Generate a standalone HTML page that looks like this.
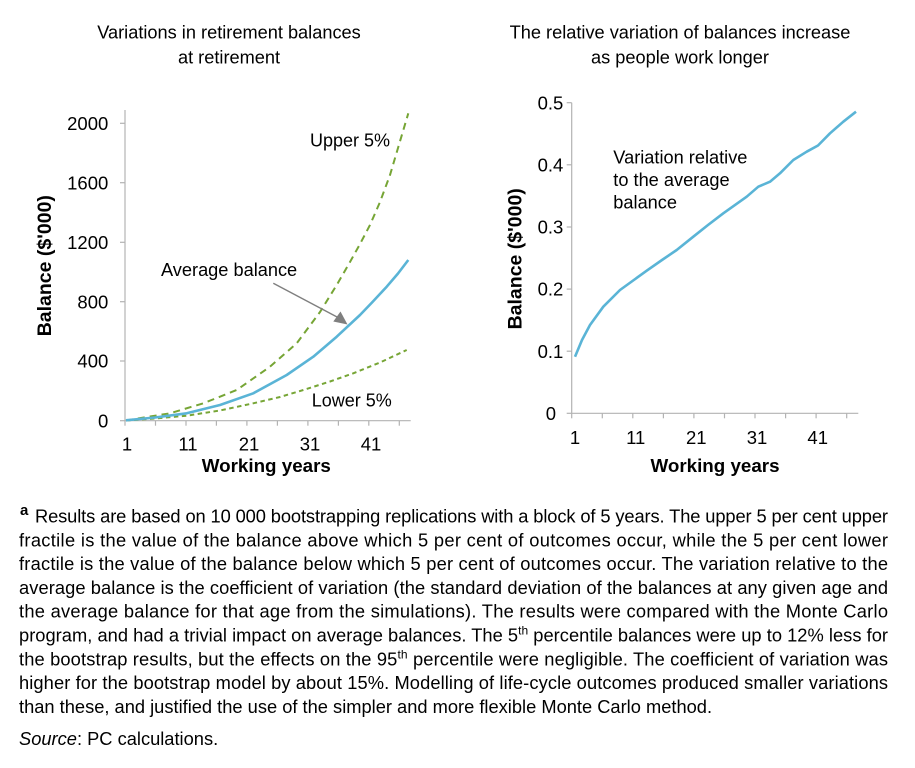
<!DOCTYPE html>
<html>
<head>
<meta charset="utf-8">
<style>
  html, body { margin:0; padding:0; background:#fff; }
  svg { display:block; }
  text { font-family: "Liberation Sans", Arial, sans-serif; fill:#000; }
</style>
</head>
<body>
<svg width="915" height="768" viewBox="0 0 915 768" xmlns="http://www.w3.org/2000/svg">
  <rect x="0" y="0" width="915" height="768" fill="#fff"/>

  <!-- ===== Left chart ===== -->
  <text x="229" y="38.3" font-size="18.2" text-anchor="middle">Variations in retirement balances</text>
  <text x="229" y="63.3" font-size="18.2" text-anchor="middle">at retirement</text>

  <g stroke="#b3b3b3" stroke-width="1.2" fill="none">
    <line x1="125" y1="110" x2="125" y2="421"/>
    <line x1="125" y1="420.7" x2="410.7" y2="420.7"/>
    <line x1="120" y1="123.3" x2="125" y2="123.3"/>
    <line x1="120" y1="182.7" x2="125" y2="182.7"/>
    <line x1="120" y1="242.3" x2="125" y2="242.3"/>
    <line x1="120" y1="301.7" x2="125" y2="301.7"/>
    <line x1="120" y1="361" x2="125" y2="361"/>
    <line x1="120" y1="420.7" x2="125" y2="420.7"/>
    <line x1="125" y1="420.7" x2="125" y2="425.7"/>
    <line x1="155.5" y1="420.7" x2="155.5" y2="425.7"/>
    <line x1="186" y1="420.7" x2="186" y2="425.7"/>
    <line x1="216.4" y1="420.7" x2="216.4" y2="425.7"/>
    <line x1="246.9" y1="420.7" x2="246.9" y2="425.7"/>
    <line x1="277.4" y1="420.7" x2="277.4" y2="425.7"/>
    <line x1="307.9" y1="420.7" x2="307.9" y2="425.7"/>
    <line x1="338.4" y1="420.7" x2="338.4" y2="425.7"/>
    <line x1="368.8" y1="420.7" x2="368.8" y2="425.7"/>
    <line x1="399.3" y1="420.7" x2="399.3" y2="425.7"/>
  </g>

  <g font-size="18.5" text-anchor="end">
    <text x="108.3" y="129.9">2000</text>
    <text x="108.3" y="189.3">1600</text>
    <text x="108.3" y="248.9">1200</text>
    <text x="108.3" y="308.3">800</text>
    <text x="108.3" y="367.6">400</text>
    <text x="108.3" y="427.3">0</text>
  </g>
  <g font-size="18.5" text-anchor="middle">
    <text x="127" y="450.7">1</text>
    <text x="188" y="450.7">11</text>
    <text x="249" y="450.7">21</text>
    <text x="310" y="450.7">31</text>
    <text x="371" y="450.7">41</text>
  </g>
  <text x="266.3" y="472" font-size="18.8" font-weight="bold" text-anchor="middle">Working years</text>
  <text transform="translate(51,265.7) rotate(-90)" font-size="19.5" font-weight="bold" text-anchor="middle">Balance ($'000)</text>

  <!-- series -->
  <polyline fill="none" stroke="#76a535" stroke-width="2" stroke-dasharray="4.5 3.5"
    points="126,420.5 155,418.5 186.7,415.7 220,410.5 253.3,403.3 280,397 303.3,390 330,381.5 353.3,373.3 380,362.5 406.7,350"/>
  <polyline fill="none" stroke="#76a535" stroke-width="2" stroke-dasharray="7 5"
    points="126,420.5 150,416.5 170,413.3 203.3,403.3 236.7,390 270,366.7 296.7,343.3 320,312 336.7,285 350,262 360,244 370,225 380,202 390,175 398.3,147 408.3,113.3"/>
  <polyline fill="none" stroke="#5ab4d6" stroke-width="2.6" stroke-linejoin="round"
    points="126,420.3 155,417.5 186.7,413.3 220,405 253.3,393.3 286.7,375 313.3,356.7 336.7,336.7 360,315 372,302.5 386.7,286.7 398,273.5 408.3,260"/>

  <!-- annotations -->
  <text x="310" y="146.7" font-size="18">Upper 5%</text>
  <text x="161" y="276" font-size="18.2">Average balance</text>
  <text x="311.7" y="406.5" font-size="18">Lower 5%</text>
  <line x1="273.3" y1="283.3" x2="338" y2="317.5" stroke="#7f7f7f" stroke-width="1.4"/>
  <polygon points="347.5,324.5 333.3,321.5 340.5,311.5" fill="#7f7f7f"/>

  <!-- ===== Right chart ===== -->
  <text x="680" y="38.3" font-size="18.2" text-anchor="middle">The relative variation of balances increase</text>
  <text x="680" y="63.3" font-size="18.2" text-anchor="middle">as people work longer</text>

  <g stroke="#b3b3b3" stroke-width="1.2" fill="none">
    <line x1="571.7" y1="102.7" x2="571.7" y2="413.6"/>
    <line x1="571.7" y1="413.3" x2="858.3" y2="413.3"/>
    <line x1="566.7" y1="102.7" x2="571.7" y2="102.7"/>
    <line x1="566.7" y1="164.8" x2="571.7" y2="164.8"/>
    <line x1="566.7" y1="227" x2="571.7" y2="227"/>
    <line x1="566.7" y1="289.1" x2="571.7" y2="289.1"/>
    <line x1="566.7" y1="351.2" x2="571.7" y2="351.2"/>
    <line x1="566.7" y1="413.3" x2="571.7" y2="413.3"/>
    <line x1="571.7" y1="413.3" x2="571.7" y2="418.3"/>
    <line x1="602.3" y1="413.3" x2="602.3" y2="418.3"/>
    <line x1="632.8" y1="413.3" x2="632.8" y2="418.3"/>
    <line x1="663.4" y1="413.3" x2="663.4" y2="418.3"/>
    <line x1="693.9" y1="413.3" x2="693.9" y2="418.3"/>
    <line x1="724.5" y1="413.3" x2="724.5" y2="418.3"/>
    <line x1="755" y1="413.3" x2="755" y2="418.3"/>
    <line x1="785.6" y1="413.3" x2="785.6" y2="418.3"/>
    <line x1="816.1" y1="413.3" x2="816.1" y2="418.3"/>
    <line x1="846.7" y1="413.3" x2="846.7" y2="418.3"/>
  </g>

  <g font-size="18.5" text-anchor="end">
    <text x="563.3" y="109.3">0.5</text>
    <text x="563.3" y="171.4">0.4</text>
    <text x="563.3" y="233.6">0.3</text>
    <text x="563.3" y="295.7">0.2</text>
    <text x="563.3" y="357.8">0.1</text>
    <text x="556" y="419.9">0</text>
  </g>
  <g font-size="18.5" text-anchor="middle">
    <text x="575" y="444">1</text>
    <text x="635.7" y="444">11</text>
    <text x="696.3" y="444">21</text>
    <text x="757" y="444">31</text>
    <text x="817.7" y="444">41</text>
  </g>
  <text x="715" y="472" font-size="18.8" font-weight="bold" text-anchor="middle">Working years</text>
  <text transform="translate(521.7,258.8) rotate(-90)" font-size="19.5" font-weight="bold" text-anchor="middle">Balance ($'000)</text>

  <polyline fill="none" stroke="#5ab4d6" stroke-width="2.6" stroke-linejoin="round"
    points="575,356.7 582,340 590,325 603.3,306.7 620,290 646.7,270.7 662,260 676.7,250 693.3,236.7 708,225 723.3,213.3 746.7,196.7 758.3,186.7 770,181.7 780,173.3 793.3,160 806.7,151.7 818,145.5 830,133.3 843.3,121.7 856,111.7"/>

  <g font-size="18.2">
    <text x="613.3" y="163.3">Variation relative</text>
    <text x="613.3" y="186">to the average</text>
    <text x="613.3" y="208.3">balance</text>
  </g>

  <!-- ===== Footnote ===== -->
  <text x="20" y="515" font-size="15" font-weight="bold">a</text>
  <g font-size="18.3">
    <text x="35" y="522.5" textLength="853" lengthAdjust="spacing">Results are based on 10 000 bootstrapping replications with a block of 5 years. The upper 5 per cent upper</text>
    <text x="19" y="546.3" textLength="869" lengthAdjust="spacing">fractile is the value of the balance above which 5 per cent of outcomes occur, while the 5 per cent lower</text>
    <text x="19" y="570.1" textLength="869" lengthAdjust="spacing">fractile is the value of the balance below which 5 per cent of outcomes occur. The variation relative to the</text>
    <text x="19" y="593.9" textLength="869" lengthAdjust="spacing">average balance is the coefficient of variation (the standard deviation of the balances at any given age and</text>
    <text x="19" y="617.7" textLength="869" lengthAdjust="spacing">the average balance for that age from the simulations). The results were compared with the Monte Carlo</text>
    <text x="19" y="641.5" textLength="869" lengthAdjust="spacing">program, and had a trivial impact on average balances. The 5<tspan font-size="12" dy="-7">th</tspan><tspan dy="7"> percentile balances were up to 12% less for</tspan></text>
    <text x="19" y="665.3" textLength="869" lengthAdjust="spacing">the bootstrap results, but the effects on the 95<tspan font-size="12" dy="-7">th</tspan><tspan dy="7"> percentile were negligible. The coefficient of variation was</tspan></text>
    <text x="19" y="689.1" textLength="869" lengthAdjust="spacing">higher for the bootstrap model by about 15%. Modelling of life-cycle outcomes produced smaller variations</text>
    <text x="19" y="712.9">than these, and justified the use of the simpler and more flexible Monte Carlo method.</text>
    <text x="19" y="745"><tspan font-style="italic">Source</tspan>: PC calculations.</text>
  </g>
</svg>
</body>
</html>
